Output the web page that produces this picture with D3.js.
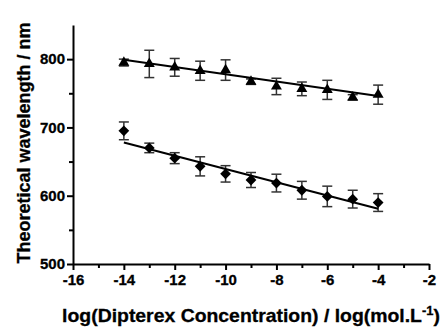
<!DOCTYPE html>
<html>
<head>
<meta charset="utf-8">
<script src="https://cdn.jsdelivr.net/npm/d3@7"></script>
<style>
  body { margin: 0; background: #fff; }
  svg text { font-family: "Liberation Sans", Arial, sans-serif; font-weight: 700; }
</style>
</head>
<body>
<svg width="445" height="329"></svg>
<script>
const xValues = [-14, -13, -12, -11, -10, -9, -8, -7, -6, -5, -4]
const upperValues = [795, 793, 788, 783, 784, 767, 760, 756.5, 755, 744, 748]
const upperErrors = [5, 20, 13, 14, 15, 4, 12, 10, 14, 4, 14]
const lowerValues = [695, 670, 655, 643, 632, 623, 618.5, 608, 599, 595, 590]
const lowerErrors = [13, 7, 8, 14, 12, 11, 13, 13, 15, 13, 13]
// fitted lines at x = -14 and x = -4
const upperFit = [[-14, 799], [-4, 746]]
const lowerFit = [[-14, 678], [-4, 581]]
const xTicks = [-16, -14, -12, -10, -8, -6, -4, -2]
const yTicks = [500, 600, 700, 800]

const svg = d3.select('svg')
const plotLeft = 73, plotRight = 429, plotTop = 25, plotBottom = 264

const xScale = d3.scaleLinear().domain([-16, -2]).range([plotLeft, plotRight])
const yScale = d3.scaleLinear().domain([500, 850]).range([plotBottom, plotTop])

// minor ticks
svg.append('g')
  .attr('transform', `translate(0, ${plotBottom})`)
  .call(d3.axisBottom(xScale).tickValues(d3.range(-15, -2, 2)).tickSize(4).tickFormat(''))
  .call(g => g.select('.domain').remove())
  .call(g => g.selectAll('line').attr('stroke-width', 2))

svg.append('g')
  .attr('transform', `translate(${plotLeft}, 0)`)
  .call(d3.axisLeft(yScale).tickValues([550, 650, 750]).tickSize(4).tickFormat(''))
  .call(g => g.select('.domain').remove())
  .call(g => g.selectAll('line').attr('stroke-width', 2))

function styleAxis(g) {
  g.attr('font-family', null).attr('font-size', 15)
  g.select('.domain').attr('stroke-width', 2)
  g.selectAll('line').attr('stroke-width', 2)
  g.selectAll('text').attr('fill', '#000').attr('stroke', '#000').attr('stroke-width', 0.3)
}

svg.append('g')
  .attr('transform', `translate(0, ${plotBottom})`)
  .call(d3.axisBottom(xScale).tickValues(xTicks).tickFormat(d => String(d))
    .tickSize(6).tickSizeOuter(0).tickPadding(4))
  .call(styleAxis)

svg.append('g')
  .attr('transform', `translate(${plotLeft}, 0)`)
  .call(d3.axisLeft(yScale).tickValues(yTicks).tickFormat(d => String(d))
    .tickSize(6).tickSizeOuter(0).tickPadding(2))
  .call(styleAxis)

const line = d3.line().x(d => xScale(d[0])).y(d => yScale(d[1]))

const series = [
  { values: upperValues, errors: upperErrors, fit: upperFit, symbol: d3.symbolTriangle, size: 52, rotate: 0 },
  { values: lowerValues, errors: lowerErrors, fit: lowerFit, symbol: d3.symbolSquare, size: 58, rotate: 45 }
]

series.forEach(s => {
  const pts = xValues.map((x, i) => ({ x: x, y: s.values[i], e: s.errors[i] }))
  const g = svg.append('g')

  const bars = g.selectAll('.err').data(pts).enter().append('g').attr('class', 'err')
    .attr('stroke', '#333').attr('stroke-width', 1.5)
  bars.append('line')
    .attr('x1', d => xScale(d.x)).attr('x2', d => xScale(d.x))
    .attr('y1', d => yScale(d.y - d.e)).attr('y2', d => yScale(d.y + d.e))
  bars.append('line')
    .attr('x1', d => xScale(d.x) - 5).attr('x2', d => xScale(d.x) + 5)
    .attr('y1', d => yScale(d.y + d.e)).attr('y2', d => yScale(d.y + d.e))
  bars.append('line')
    .attr('x1', d => xScale(d.x) - 5).attr('x2', d => xScale(d.x) + 5)
    .attr('y1', d => yScale(d.y - d.e)).attr('y2', d => yScale(d.y - d.e))

  g.append('path')
    .attr('d', line(s.fit))
    .attr('fill', 'none')
    .attr('stroke', '#000')
    .attr('stroke-width', 2)

  g.selectAll('.pt').data(pts).enter().append('path').attr('class', 'pt')
    .attr('d', d3.symbol().type(s.symbol).size(s.size))
    .attr('transform', d => `translate(${xScale(d.x)}, ${yScale(d.y)}) rotate(${s.rotate})`)
    .attr('fill', '#000')
})

const xLabel = svg.append('text')
  .attr('text-anchor', 'middle')
  .attr('font-size', 18)
  .attr('stroke', '#000').attr('stroke-width', 0.3)
xLabel.append('tspan').text('log(Dipterex Concentration) / log(mol.L')
xLabel.append('tspan').attr('dy', -7).attr('font-size', 12).text('-1')
xLabel.append('tspan').attr('dy', 7).text(')')
// stretch a little to the width of the original label
const xw = xLabel.node().getBBox().width
xLabel.attr('transform', `translate(251, 322) scale(${378 / xw}, 1)`)

svg.append('text')
  .attr('transform', 'translate(30, 143) rotate(-90)')
  .attr('text-anchor', 'middle')
  .attr('font-size', 18)
  .attr('stroke', '#000').attr('stroke-width', 0.3)
  .text('Theoretical wavelength / nm')
</script>
</body>
</html>
